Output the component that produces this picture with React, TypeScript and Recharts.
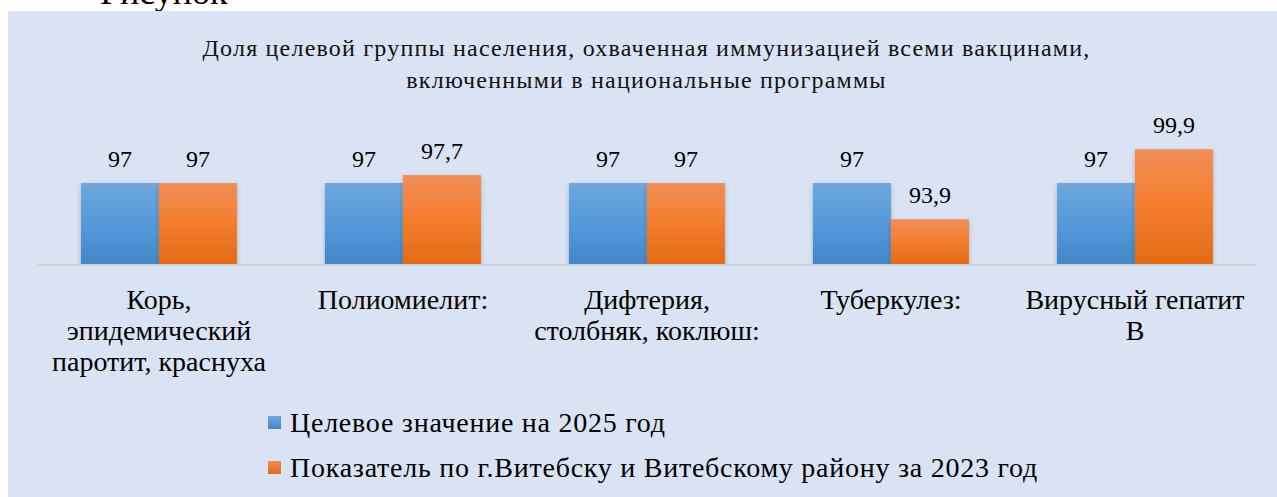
import React from 'react';
import { BarChart, Bar, XAxis, YAxis, LabelList } from 'recharts';

const categories: string[][] = [
  ['Корь,', 'эпидемический', 'паротит, краснуха'],
  ['Полиомиелит:'],
  ['Дифтерия,', 'столбняк, коклюш:'],
  ['Туберкулез:'],
  ['Вирусный гепатит', 'В'],
];
const targetValues = [97, 97, 97, 97, 97];
const actualValues = [97, 97.7, 97, 93.9, 99.9];
const seriesNames = [
  'Целевое значение на 2025 год',
  'Показатель по г.Витебску и Витебскому району за 2023 год',
];
const titleLines = [
  'Доля целевой группы населения, охваченная иммунизацией всеми вакцинами,',
  'включенными в национальные программы',
];

const FONT = '"Liberation Serif", "Times New Roman", serif';

const data = categories.map((lines, i) => ({
  name: lines.join(' '),
  target: targetValues[i],
  actual: actualValues[i],
}));

const CategoryTick = (props: any) => {
  const { x, y, index } = props;
  const lines = categories[index] || [];
  return (
    <g transform={`translate(${x},${y})`}>
      <text textAnchor="middle" fontFamily={FONT} fontSize={28} fill="#000">
        {lines.map((l, i) => (
          <tspan key={i} x={0} dy={i === 0 ? 36 : 31}>
            {l}
          </tspan>
        ))}
      </text>
    </g>
  );
};

const fmt = (v: any) => String(v).replace('.', ',');

const labelStyle = { fontFamily: FONT, fontSize: 24, fill: '#000' };

export default function App() {
  return (
    <div
      style={{
        position: 'absolute',
        left: 0,
        top: 0,
        width: 1277,
        height: 497,
        overflow: 'hidden',
        background: '#fff',
      }}
    >
      <div
        style={{
          position: 'absolute',
          left: 100,
          top: -26,
          fontFamily: FONT,
          fontSize: 36,
          lineHeight: 1,
          color: '#000',
        }}
      >
        Рисунок
      </div>
      <div
        style={{
          position: 'absolute',
          left: 8,
          top: 11,
          width: 1269,
          height: 486,
          background: '#dae3f3',
        }}
      >
        <div
          style={{
            position: 'absolute',
            left: 0,
            width: 1269,
            top: 21,
            textAlign: 'center',
            fontFamily: FONT,
            fontSize: 24,
            letterSpacing: 1.2,
            lineHeight: '32px',
            color: '#111',
            paddingLeft: 4,
          }}
        >
          {titleLines.map((t, i) => (
            <div key={i}>{t}</div>
          ))}
        </div>
        <BarChart
          width={1269}
          height={486}
          data={data}
          margin={{ top: 137, right: 20, left: 29, bottom: 112 }}
          barCategoryGap="18%"
          barGap={0}
        >
          <defs>
            <linearGradient id="gBlue" x1="0" y1="0" x2="0" y2="1">
              <stop offset="0%" stopColor="#6fa7dd" />
              <stop offset="50%" stopColor="#5599d9" />
              <stop offset="100%" stopColor="#4386c8" />
            </linearGradient>
            <linearGradient id="gOrange" x1="0" y1="0" x2="0" y2="1">
              <stop offset="0%" stopColor="#f18e5a" />
              <stop offset="50%" stopColor="#f47c2b" />
              <stop offset="100%" stopColor="#e16a16" />
            </linearGradient>
            <filter id="shadow" x="-10%" y="-10%" width="120%" height="130%">
              <feDropShadow dx="0" dy="2" stdDeviation="2" floodColor="#000" floodOpacity="0.25" />
            </filter>
          </defs>
          <XAxis
            dataKey="name"
            height={120}
            tickLine={false}
            axisLine={{ stroke: '#d4d4d4', strokeWidth: 2 }}
            tick={<CategoryTick />}
            interval={0}
          />
          <YAxis hide domain={[90, 100]} allowDataOverflow />
          <Bar
            dataKey="target"
            name={seriesNames[0]}
            fill="url(#gBlue)"
            filter="url(#shadow)"
            isAnimationActive={false}
          >
            <LabelList dataKey="target" position="top" offset={16} formatter={fmt} style={labelStyle} />
          </Bar>
          <Bar
            dataKey="actual"
            name={seriesNames[1]}
            fill="url(#gOrange)"
            filter="url(#shadow)"
            isAnimationActive={false}
          >
            <LabelList dataKey="actual" position="top" offset={16} formatter={fmt} style={labelStyle} />
          </Bar>
        </BarChart>
        <div
          style={{
            position: 'absolute',
            left: 260,
            top: 389,
            fontFamily: FONT,
            fontSize: 28,
            letterSpacing: 0.75,
            color: '#000',
          }}
        >
          {seriesNames.map((n, i) => (
            <div key={i} style={{ display: 'flex', alignItems: 'center', height: 45 }}>
              <span
                style={{
                  display: 'inline-block',
                  width: 13,
                  height: 13,
                  marginRight: 9,
                  background:
                    i === 0
                      ? 'linear-gradient(#6fa7dd, #4386c8)'
                      : 'linear-gradient(#f18e5a, #e16a16)',
                }}
              />
              {n}
            </div>
          ))}
        </div>
      </div>
    </div>
  );
}
